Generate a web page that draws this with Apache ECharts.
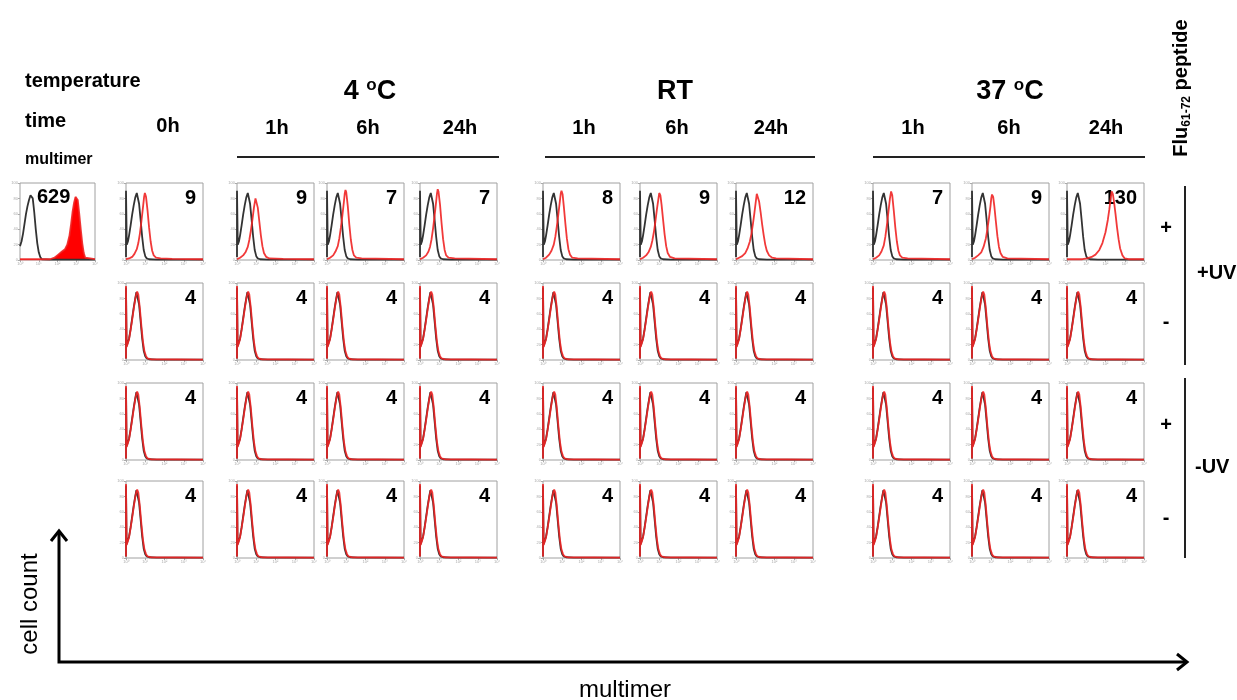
<!DOCTYPE html>
<html>
<head>
<meta charset="utf-8">
<script src="https://cdn.jsdelivr.net/npm/echarts@6/dist/echarts.min.js"></script>
<style>
html,body{margin:0;padding:0;background:#fff;}
#main{width:1237px;height:700px;}
</style>
</head>
<body>
<div id="main"></div>
<script>
// labels
var groupLabels = ['4 oC', 'RT', '37 oC'];
var timeLabels = ['0h', '1h', '6h', '24h', '1h', '6h', '24h', '1h', '6h', '24h'];
var peptideLabels = ['+', '-', '+', '-'];
var uvLabels = ['+UV', '-UV'];
var xTickLabels = ['10⁰', '10¹', '10²', '10³', '10⁴'];

// MFI numbers written in each panel (row by row, 0h, 4C x3, RT x3, 37C x3)
var refValue = 629;
var mfiRow1 = [9, 9, 7, 7, 8, 9, 12, 7, 9, 130];
var mfiRow2 = [4, 4, 4, 4, 4, 4, 4, 4, 4, 4];
var mfiRow3 = [4, 4, 4, 4, 4, 4, 4, 4, 4, 4];
var mfiRow4 = [4, 4, 4, 4, 4, 4, 4, 4, 4, 4];

// histograms: [channel % of axis, % of max]
var refBlack = [[0,18],[2,24],[4,34],[6,47],[8,60],[10,70],[12,78],[14,84],[15.5,86],[17,80],[19,62],[21,40],[23,22],[25,10],[27,4],[29,1],[40,0.5],[100,0.5]];
var refRed = [[0,1],[40,1],[46,3],[51,7],[56,11],[60,14],[63,20],[66,32],[68,46],[70,62],[72,74],[74,82],[75.5,84],[77,78],[79,60],[81,40],[83,22],[85,9],[87,3],[89,1],[100,1]];
var ctrlBlack = [[0,4],[0,90],[1,20],[2.5,24],[4,32],[6,45],[8,59],[10,71],[12,81],[14,87],[15.5,85],[17,73],[19,52],[21,30],[23,13],[25,5],[27,2],[30,1],[40,0.6],[100,0.5]];
var red0h = [[0,1],[4,2],[8,4],[11,8],[14,14],[16,22],[18,34],[20,50],[22,68],[23.5,82],[24.5,87],[26,82],[28,64],[30,42],[32,24],[34,12],[36,6],[39,3],[45,2],[60,1.5],[100,1]];
var red4c1h = [[0,1],[4,3],[8,6],[11,10],[14,17],[16,26],[18,38],[20,52],[22,68],[24,80],[25.5,78],[27,68],[29,50],[31,32],[33,18],[35,9],[38,4],[42,2],[60,1.5],[100,1]];
var red4c6h = [[0,1],[4,3],[8,6],[11,11],[14,18],[16,28],[18,42],[20,58],[22,76],[23,86],[24,91],[25,88],[27,70],[29,46],[31,26],[33,13],[35,6],[38,3],[45,2],[100,1]];
var red4c24h = [[0,1],[4,3],[8,6],[11,11],[13,17],[15,27],[17,41],[19,58],[21,76],[22,86],[23,92],[24,89],[26,72],[28,48],[30,27],[32,13],[34,6],[37,3],[45,2],[100,1]];
var redRT1h = [[0,1],[4,3],[8,7],[11,12],[14,20],[16,30],[18,44],[20,60],[22,77],[23,86],[24,90],[25.5,85],[27,70],[29,48],[31,28],[33,14],[35,7],[38,3],[45,2],[100,1]];
var redRT6h = [[0,1],[4,3],[8,6],[11,10],[14,17],[16,25],[18,36],[20,50],[22,66],[24,80],[25,87],[26.5,84],[28,72],[30,52],[32,33],[34,18],[36,9],[39,4],[45,2],[100,1]];
var redRT24h = [[0,1],[4,3],[8,5],[12,9],[15,15],[18,24],[20,34],[22,47],[24,62],[26,78],[27,86],[28.5,84],[30,76],[32,62],[34,46],[36,32],[38,20],[40,12],[43,6],[47,3],[52,2],[100,1]];
var red37c1h = [[0,1],[4,3],[8,6],[11,11],[14,19],[16,30],[18,45],[20,62],[22,80],[23.5,89],[25,84],[27,64],[29,42],[31,24],[33,12],[35,6],[38,3],[45,2],[100,1]];
var red37c6h = [[0,1],[4,3],[8,6],[12,10],[15,17],[18,28],[20,40],[22,54],[24,70],[25,80],[26,85],[27.5,82],[29,70],[31,50],[33,31],[35,17],[37,9],[40,4],[46,2],[100,1]];
var red37c24h = [[0,1],[20,1],[26,2],[32,4],[37,7],[42,13],[46,22],[50,36],[53,52],[55,66],[57,82],[58,89],[59.5,86],[61,76],[63,60],[65,42],[67,27],[69,15],[72,6],[75,2],[80,1],[100,1]];
var negBlack = [[0,2],[0,94],[0.8,18],[2,20],[4,28],[6,40],[8,54],[10,68],[12,80],[13.5,88],[15,86],[17,72],[19,50],[21,28],[23,12],[25,5],[27,2],[30,1],[40,0.6],[100,0.5]];
var negRed = [[0,2],[0,96],[0.8,17],[2,19],[4,27],[6,39],[8,52],[10,66],[12,79],[13.5,86],[14.5,89],[16,85],[18,67],[20,44],[22,24],[24,11],[26,5],[28,2],[32,1],[100,0.6]];

var row1Red = [red0h, red4c1h, red4c6h, red4c24h, redRT1h, redRT6h, redRT24h, red37c1h, red37c6h, red37c24h];

// layout
var FONT = '"Liberation Sans", Arial, sans-serif';
var colLeft = [126, 237, 327, 420, 543, 640, 736, 873, 972, 1067];
var rowTop = [183, 283, 383, 481];
var PW = 77, PH = 77;
var BLACK = '#333333', RED = '#f02424';

var grids = [], xAxes = [], yAxes = [], series = [], graphics = [];

function addPanel(left, top, w, black, red, filled) {
    var i = grids.length;
    grids.push({left: left, top: top, width: w, height: PH, show: true, borderColor: '#a0a0a0', borderWidth: 1, backgroundColor: '#fff'});
    xAxes.push({
        gridIndex: i, type: 'value', min: 0, max: 100, interval: 25,
        axisLine: {show: false}, splitLine: {show: false},
        axisTick: {show: true, length: 2, lineStyle: {color: '#aaa'}},
        axisLabel: {show: true, fontSize: 4, color: '#aaa', margin: 2, formatter: function (v) { return xTickLabels[v / 25]; }}
    });
    yAxes.push({
        gridIndex: i, type: 'value', min: 0, max: 100, interval: 20,
        axisLine: {show: false}, splitLine: {show: false},
        axisTick: {show: true, length: 2, lineStyle: {color: '#aaa'}},
        axisLabel: {show: true, fontSize: 4, color: '#aaa', margin: 2}
    });
    series.push({type: 'line', xAxisIndex: i, yAxisIndex: i, data: black, symbol: 'none', silent: true,
        lineStyle: {color: BLACK, width: 1.8}});
    var s = {type: 'line', xAxisIndex: i, yAxisIndex: i, data: red, symbol: 'none', silent: true,
        lineStyle: {color: RED, width: 1.8, opacity: 0.9}};
    if (filled) s.areaStyle = {color: '#ff0000', opacity: 1};
    series.push(s);
}

function txt(x, y, text, size, weight, align, extra) {
    var el = {type: 'text', x: x, y: y, style: {text: text, font: (weight || 'normal') + ' ' + size + 'px ' + FONT,
        fill: '#000', align: align || 'left', verticalAlign: 'middle'}};
    if (extra) for (var k in extra) el[k] = extra[k];
    return el;
}

// reference panel (positive control)
addPanel(20, 183, 75, refBlack, refRed, true);
graphics.push(txt(37, 197, String(refValue), 20, 'bold', 'left'));

var mfiRows = [mfiRow1, mfiRow2, mfiRow3, mfiRow4];
for (var r = 0; r < 4; r++) {
    for (var c = 0; c < 10; c++) {
        if (r === 0) addPanel(colLeft[c], rowTop[r], PW, ctrlBlack, row1Red[c], false);
        else addPanel(colLeft[c], rowTop[r], PW, negBlack, negRed, false);
        graphics.push(txt(colLeft[c] + PW - 7, rowTop[r] + 15, String(mfiRows[r][c]), 20, 'bold', 'right'));
    }
}

// header texts
graphics.push(txt(25, 81, 'temperature', 20, 'bold', 'left'));
graphics.push(txt(25, 121, 'time', 20, 'bold', 'left'));
graphics.push(txt(25, 160, 'multimer', 16, 'bold', 'left'));
var timeX = [168, 277, 368, 460, 584, 677, 771, 913, 1009, 1106];
for (var t = 0; t < timeLabels.length; t++) {
    graphics.push(txt(timeX[t], t === 0 ? 126 : 128, timeLabels[t], 20, 'bold', 'center'));
}
var groupX = [370, 675, 1010];
for (var g = 0; g < groupLabels.length; g++) {
    var parts = groupLabels[g].split(' ');
    var rt = parts.length > 1 ? '{b|' + parts[0] + ' }{o|o}{b|C}' : '{b|' + parts[0] + '}';
    graphics.push({type: 'text', x: groupX[g], y: 92, style: {text: rt, align: 'center', verticalAlign: 'middle',
        rich: {b: {font: 'bold 27px ' + FONT, fill: '#000', lineHeight: 30},
               o: {font: 'bold 17px ' + FONT, fill: '#000', verticalAlign: 'top', lineHeight: 30}}}});
}
var underline = [[237, 499], [545, 815], [873, 1145]];
underline.forEach(function (u) {
    graphics.push({type: 'line', shape: {x1: u[0], y1: 157, x2: u[1], y2: 157}, style: {stroke: '#222', lineWidth: 2}});
});

// right side annotations
graphics.push({type: 'text', x: 1181, y: 88, rotation: Math.PI / 2, style: {
    text: '{a|Flu}{s|61-72}{a| peptide}', align: 'center', verticalAlign: 'middle',
    rich: {a: {font: 'bold 20px ' + FONT, fill: '#000', lineHeight: 24},
           s: {font: 'bold 12px ' + FONT, fill: '#000', verticalAlign: 'bottom', lineHeight: 24}}}});
var pmY = [228, 322, 425, 518];
for (var p = 0; p < 4; p++) graphics.push(txt(1166, pmY[p], peptideLabels[p], 20, 'bold', 'center'));
graphics.push({type: 'line', shape: {x1: 1185, y1: 186, x2: 1185, y2: 365}, style: {stroke: '#222', lineWidth: 2}});
graphics.push({type: 'line', shape: {x1: 1185, y1: 378, x2: 1185, y2: 558}, style: {stroke: '#222', lineWidth: 2}});
graphics.push(txt(1197, 273, uvLabels[0], 20, 'bold', 'left'));
graphics.push(txt(1195, 467, uvLabels[1], 20, 'bold', 'left'));

// axes arrows
graphics.push({type: 'polyline', shape: {points: [[59, 662], [59, 531], [59, 662], [1187, 662]]}, style: {stroke: '#000', lineWidth: 3, fill: null}});
graphics.push({type: 'polyline', shape: {points: [[51, 541], [59, 531], [67, 541]]}, style: {stroke: '#000', lineWidth: 3, fill: null}});
graphics.push({type: 'polyline', shape: {points: [[1177, 654], [1187, 662], [1177, 670]]}, style: {stroke: '#000', lineWidth: 3, fill: null}});
graphics.push(txt(30, 604, 'cell count', 24, 'normal', 'center', {rotation: Math.PI / 2}));
graphics.push(txt(625, 690, 'multimer', 24, 'normal', 'center'));

var chart = echarts.init(document.getElementById('main'));
chart.setOption({
    animation: false,
    backgroundColor: '#fff',
    grid: grids,
    xAxis: xAxes,
    yAxis: yAxes,
    series: series,
    graphic: graphics
});
</script>
</body>
</html>
